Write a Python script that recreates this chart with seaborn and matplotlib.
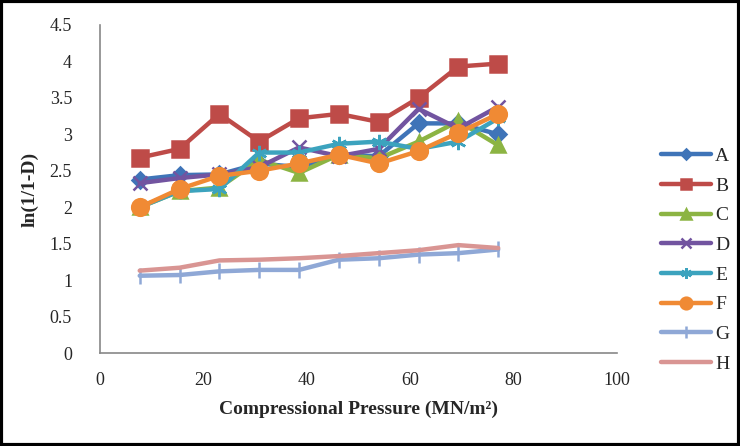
import pandas as pd
import matplotlib.pyplot as plt
import seaborn as sns

# Pressure steps (MN/m^2)
pressure = [7.7, 15.4, 23.1, 30.8, 38.5, 46.2, 53.9, 61.6, 69.3, 77.0]

A = [2.38, 2.44, 2.45, 2.60, 2.55, 2.72, 2.70, 3.15, 3.15, 3.00]
B = [2.68, 2.80, 3.28, 2.90, 3.22, 3.28, 3.17, 3.50, 3.93, 3.97]
C = [2.00, 2.22, 2.27, 2.65, 2.47, 2.72, 2.67, 2.90, 3.18, 2.85]
D = [2.33, 2.40, 2.45, 2.55, 2.82, 2.70, 2.80, 3.35, 3.08, 3.38]
E = [2.00, 2.22, 2.25, 2.75, 2.75, 2.87, 2.90, 2.80, 2.90, 3.22]
F = [2.00, 2.25, 2.43, 2.50, 2.60, 2.72, 2.60, 2.77, 3.02, 3.28]
G = [1.06, 1.07, 1.12, 1.14, 1.14, 1.28, 1.30, 1.35, 1.37, 1.42]
H = [1.13, 1.17, 1.27, 1.28, 1.30, 1.33, 1.37, 1.41, 1.48, 1.44]

series = {"A": A, "B": B, "C": C, "D": D, "E": E, "F": F, "G": G, "H": H}

colors = {"A": "#3F74B8", "B": "#BE4B48", "C": "#8CB443", "D": "#7254A0",
          "E": "#3CA3BE", "F": "#F08A34", "G": "#8FA8D6", "H": "#D99593"}
markers = {"A": "D", "B": "s", "C": "^", "D": "x", "E": (6, 2, 0),
           "F": "o", "G": "|", "H": None}
msizes = {"A": 8, "B": 11, "C": 10, "D": 10, "E": 11, "F": 12, "G": 12, "H": 0}

sns.set_style("white")
plt.rcParams["font.family"] = ["Liberation Serif", "DejaVu Serif"]

fig = plt.figure(figsize=(7.4, 4.46), dpi=100)
ax = fig.add_axes([0.135, 0.2085, 0.699, 0.7355])

for name, vals in series.items():
    df = pd.DataFrame({"pressure": pressure, "value": vals})
    c = colors[name]
    sns.lineplot(data=df, x="pressure", y="value", color=c, linewidth=3.2,
                 marker=markers[name], markersize=msizes[name], markeredgewidth=1.8,
                 markeredgecolor=c, markerfacecolor=c, label=name, ax=ax)

ax.set_xlim(0, 100)
ax.set_ylim(0, 4.5)
ax.set_xticks([0, 20, 40, 60, 80, 100])
ax.set_yticks([0, 0.5, 1, 1.5, 2, 2.5, 3, 3.5, 4, 4.5])
ax.set_yticklabels(["0", "0.5", "1", "1.5", "2", "2.5", "3", "3.5", "4", "4.5"])
ax.tick_params(axis="x", labelsize=13, length=0, pad=14)
ax.tick_params(axis="y", labelsize=13, length=0, pad=20)
for s in ["top", "right"]:
    ax.spines[s].set_visible(False)
for s in ["left", "bottom"]:
    ax.spines[s].set_color("#888888")
    ax.spines[s].set_linewidth(1.2)

ax.set_xlabel("Compressional Pressure (MN/m²)", fontsize=14, fontweight="bold", labelpad=8)
ax.set_ylabel("ln(1/1-D)", fontsize=14, fontweight="bold", labelpad=8)

leg = ax.legend(loc="upper left", bbox_to_anchor=(1.05, 0.68), frameon=False,
                fontsize=14, handlelength=2.6, labelspacing=0.62, handletextpad=0.2,
                markerscale=0.7)

# black frame around the figure
fig.patches.append(plt.Rectangle((0.002, 0.003), 0.996, 0.994, transform=fig.transFigure,
                                 fill=False, edgecolor="black", linewidth=3))

plt.savefig("out.png", dpi=100)
